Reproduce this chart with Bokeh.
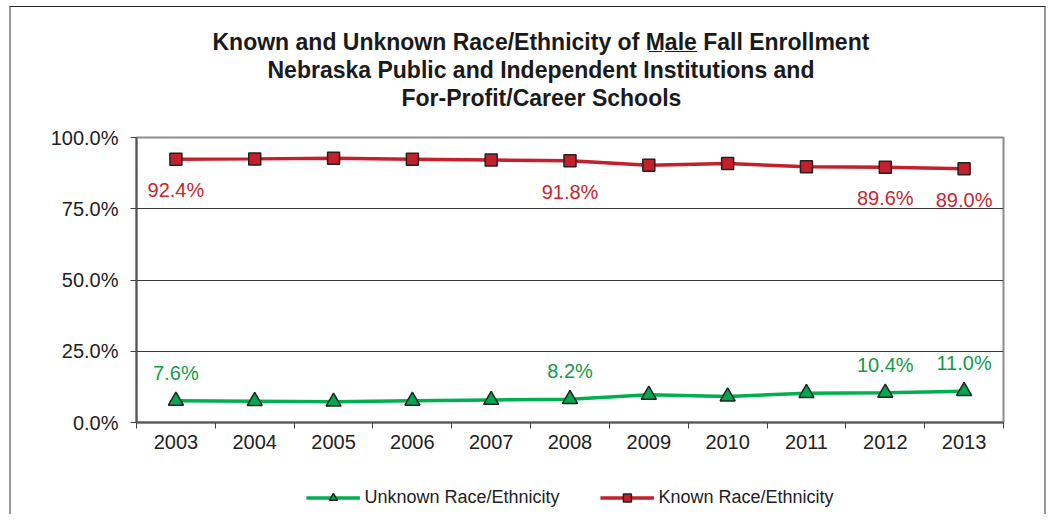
from bokeh.plotting import figure
from bokeh.layouts import column
from bokeh.models import (Range1d, FixedTicker, PrintfTickFormatter, Title,
                          Legend, LegendItem, ColumnDataSource)
from bokeh.core.properties import value
from bokeh.embed import file_html
from bokeh.resources import INLINE

years = [2003, 2004, 2005, 2006, 2007, 2008, 2009, 2010, 2011, 2012, 2013]
known = [92.4, 92.5, 92.7, 92.4, 92.1, 91.8, 90.3, 90.9, 89.7, 89.6, 89.0]
unknown = [7.6, 7.5, 7.3, 7.6, 7.9, 8.2, 9.7, 9.1, 10.3, 10.4, 11.0]
label_idx = [0, 5, 9, 10]
y_ticks = [0, 25, 50, 75, 100]
title_lines = ["Known and Unknown Race/Ethnicity of M\u0332a\u0332l\u0332e\u0332 Fall Enrollment",
               "Nebraska Public and Independent Institutions and",
               "For-Profit/Career Schools"]
series_names = ["Unknown Race/Ethnicity", "Known Race/Ethnicity"]

RED = "#c4202c"
GREEN = "#00b050"
RED_TXT = "#c8262f"
GREEN_TXT = "#139a4a"
FONT = "Liberation Sans"

p = figure(width=1033, height=473, output_backend="svg", toolbar_location=None,
           x_range=Range1d(2002.5, 2013.5), y_range=Range1d(0, 100),
           min_border_left=125, min_border_right=41, min_border_top=130, min_border_bottom=58)

p.outline_line_color = "#8c8c8c"
p.outline_line_width = 2
p.xgrid.grid_line_color = None
p.ygrid.grid_line_color = "#3a3a3a"
p.ygrid.grid_line_width = 1.2
p.ygrid.ticker = FixedTicker(ticks=[25, 50, 75])

p.xaxis.ticker = FixedTicker(ticks=years, minor_ticks=[y - 0.5 for y in years] + [years[-1] + 0.5])
p.xaxis.major_tick_out = 0
p.xaxis.major_tick_in = 0
p.xaxis.minor_tick_out = 6
p.xaxis.minor_tick_in = 0
p.xaxis.minor_tick_line_color = "#444444"
p.xaxis.axis_line_color = "#555555"
p.xaxis.axis_line_width = 2
p.xaxis.major_label_standoff = 6
p.xaxis.major_label_text_font = FONT
p.xaxis.major_label_text_font_size = "20px"
p.xaxis.major_label_text_color = "#222222"

p.yaxis.ticker = FixedTicker(ticks=y_ticks)
p.yaxis.formatter = PrintfTickFormatter(format="%.1f%%")
p.yaxis.major_tick_out = 6
p.yaxis.major_tick_in = 0
p.yaxis.minor_tick_line_color = None
p.yaxis.major_tick_line_color = "#444444"
p.yaxis.axis_line_color = "#555555"
p.yaxis.axis_line_width = 2
p.yaxis.major_label_standoff = 12
p.yaxis.major_label_text_font = FONT
p.yaxis.major_label_text_font_size = "20px"
p.yaxis.major_label_text_color = "#222222"

src = ColumnDataSource(dict(x=years, known=known, unknown=unknown))
line_kw_unk = dict(line_color=GREEN, line_width=3.5)
mark_kw_unk = dict(marker="triangle", size=15, fill_color="#00a84f",
                   line_color="#222222", line_width=1.5)
line_kw_kn = dict(line_color=RED, line_width=3.5)
mark_kw_kn = dict(marker="square", size=12, fill_color=RED,
                  line_color="#222222", line_width=1.5)
p.line("x", "unknown", source=src, **line_kw_unk)
p.scatter("x", "unknown", source=src, **mark_kw_unk)
p.line("x", "known", source=src, **line_kw_kn)
p.scatter("x", "known", source=src, **mark_kw_kn)

lab_src = ColumnDataSource(dict(
    x=[years[i] for i in label_idx],
    known=[known[i] for i in label_idx],
    unknown=[unknown[i] for i in label_idx],
    ktxt=["%.1f%%" % known[i] for i in label_idx],
    utxt=["%.1f%%" % unknown[i] for i in label_idx]))
p.text("x", "known", text="ktxt", source=lab_src, text_align="center", text_baseline="middle",
       y_offset=31, text_color=RED_TXT, text_font=value(FONT), text_font_size="20px")
p.text("x", "unknown", text="utxt", source=lab_src, text_align="center", text_baseline="middle",
       y_offset=-28, text_color=GREEN_TXT, text_font=value(FONT), text_font_size="20px")

# titles: first added sits nearest the frame; a blank spacer keeps them off the frame
p.add_layout(Title(text=" ", text_font_size="12px", standoff=11), "above")
title_offsets = [76, 131, 265]
for line, off in reversed(list(zip(title_lines, title_offsets))):
    p.add_layout(Title(text=line, align="left", offset=off, text_font=FONT,
                       text_font_style="bold", text_font_size="23px", text_color="#1a1a1a",
                       standoff=0), "above")

# legend strip below the chart (its swatch renderers use the series data, kept off-range)
leg = figure(width=1033, height=34, output_backend="svg", toolbar_location=None,
             x_range=Range1d(0, 1), y_range=Range1d(0, 1),
             x_axis_location=None, y_axis_location=None,
             min_border_left=0, min_border_right=15, min_border_top=0, min_border_bottom=0)
leg.grid.grid_line_color = None
leg.outline_line_color = None
r1 = [leg.line("x", "unknown", source=src, **line_kw_unk),
      leg.scatter("x", "unknown", source=src, **mark_kw_unk)]
r2 = [leg.line("x", "known", source=src, **line_kw_kn),
      leg.scatter("x", "known", source=src, **mark_kw_kn)]
legend = Legend(items=[LegendItem(label=series_names[0], renderers=r1),
                       LegendItem(label=series_names[1], renderers=r2)],
                orientation="horizontal", location="center",
                label_text_font=FONT, label_text_font_size="18px", label_text_color="#222222",
                glyph_width=54, spacing=40, border_line_color=None, background_fill_alpha=0,
                padding=0, margin=0, label_standoff=5)
leg.add_layout(legend, "center")

layout = column(p, leg, spacing=0,
                styles={"margin-left": "9px", "margin-top": "6px",
                        "border-top": "1px solid #222222", "border-left": "2px solid #999999",
                        "border-right": "2px solid #999999"})

open("out.html", "w").write(file_html(layout, INLINE))
